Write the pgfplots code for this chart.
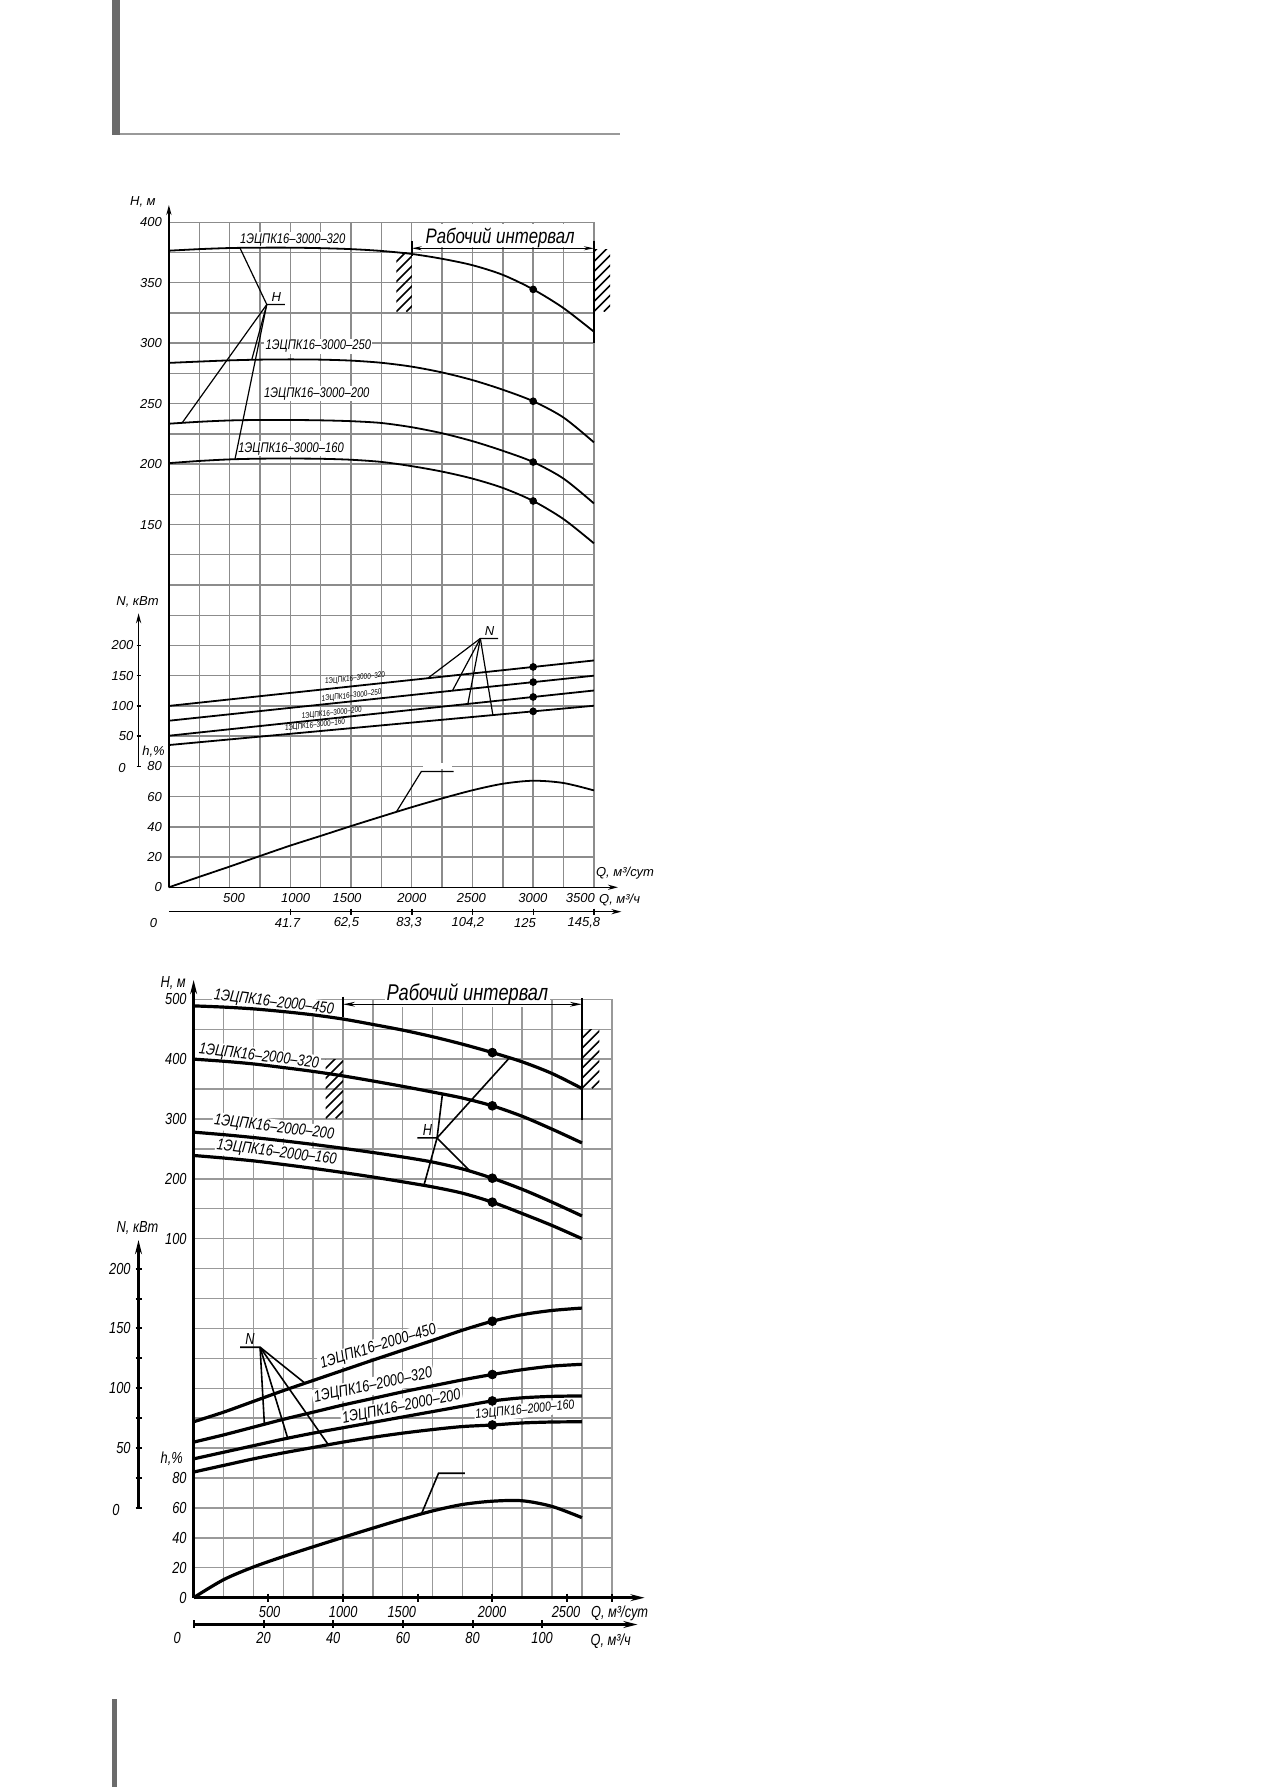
\documentclass[border=0pt]{standalone}
\usepackage{pgfplots}
\pgfplotsset{compat=1.18}
\usepackage{pgfplotstable}
\usetikzlibrary{arrows.meta}
\usepackage{fontspec}
\setmainfont{Liberation Sans}
\newfontfamily\nar{Liberation Sans}[FakeStretch=0.8]

\newcommand\fA{\nar\itshape\fontsize{7}{8}\selectfont}
\newcommand\fAn{\nar\itshape\fontsize{4}{4.8}\selectfont}
\newcommand\fAt{\itshape\fontsize{6.5}{7.5}\selectfont}
\newcommand\fAw{\nar\itshape\fontsize{10.5}{12}\selectfont}
\newcommand\fB{\nar\itshape\fontsize{8}{9}\selectfont}
\newcommand\fBs{\nar\itshape\fontsize{6.6}{8}\selectfont}
\newcommand\fBw{\nar\itshape\fontsize{11.4}{13}\selectfont}

\newcommand\hatch[4]{%
  \begin{scope}
    \clip (#1,#2) rectangle (#3,#4);
    \foreach \k in {-8,...,8} \draw[line width=0.8pt] ({#1+\k*10},#4) -- ++(80,-80);
  \end{scope}}

\pgfplotstableread{
Q H320 H250 H200 H160 eff
0 376.5 283.7 233.4 200.8 0
250 377.8 284.8 235.0 202.6 6.9
500 378.7 285.8 236.1 203.9 13.7
750 379.0 286.4 236.5 204.5 20.7
1000 379.0 286.6 236.5 204.6 27.6
1250 378.6 286.4 236.2 204.4 34.0
1500 377.8 285.6 235.5 203.6 40.5
1750 376.3 283.8 234.0 201.8 46.8
2000 373.8 280.6 230.5 198.3 53.0
2250 369.8 275.8 225.5 193.8 58.8
2500 364.5 269.5 219.0 188.0 64.2
2750 356.5 261.5 211.0 180.3 68.5
3000 344.5 252.0 201.7 169.5 70.5
3250 329.0 238.5 188.0 154.5 69.0
3500 309.5 218.0 167.5 134.5 64.1
}\tA

\pgfplotstableread{
Q N320 N250 N200 N160
0 100 75.5 50.7 35.3
3500 175.2 150 125.5 100.3
}\tAN

\pgfplotstableread{
Q H320 H250 H200 H160 N320 N250 N200 N160
3000 344.5 252 201.7 169.5 164.5 139.4 114.8 91
}\tAM

\pgfplotstableread{
Q H450 H320 H200 H160 N450 N320 N200 N160 eff
0 489 400 278 239 72 55 41 30 0
200 487 396.5 273.8 234.8 80 61 46.5 35.5 12
400 484 392 269 230 89 67.5 52 41 20.5
600 479.5 386 263.5 224 98 74 57.5 46 27.5
800 474 379.5 257.5 217.5 106.5 80 62.5 50.5 34
1000 467 372 251 210.5 115 86 67 55 40.3
1200 458 363.5 244 203 123.5 91.5 71.5 59 46.5
1400 448.5 354.5 236.5 195 131.8 97 76 62.5 52.5
1600 437.5 345 228 186.5 140 102 80.5 65.5 58
1800 425 335 216.5 176 148.5 107 85 68 62.3
2000 411 322 201 161 156 111.5 89.4 69.3 64.5
2200 395.5 304.5 182.5 142 161.5 115.5 92 71 64.8
2400 376 283 161 122 165 118.5 93.2 71.8 61
2600 351 260 138 100 167 120 93.6 72 53.5
}\tB

\pgfplotstableread{
Q H450 H320 H200 H160 N450 N320 N200 N160
2000 411 322 201 161 156 111.5 89.4 69.3
}\tBM

\pgfplotsset{
  cA/.style={black, line width=0.9pt, smooth, tension=0.5, mark=none},
  cB/.style={black, line width=1.6pt, smooth, tension=0.5, mark=none},
  mA/.style={only marks, mark=*, mark size=1.7pt, black},
  mB/.style={only marks, mark=*, mark size=2.2pt, black},
}
\tikzset{lead/.style={black, line width=0.6pt}, leadB/.style={black, line width=0.8pt}}

\begin{document}
\begin{tikzpicture}
\fill[white] (0,0) rectangle (637.5pt,893.5pt);
\path[use as bounding box] (0,0) rectangle (637.5pt,893.5pt);

% ================= CHART 1 =================
\begin{axis}[
  at={(84.45pt,449.85pt)}, anchor=south west,
  scale only axis, width=212.5pt, height=332.5pt,
  xmin=0, xmax=3500, ymin=-150, ymax=400,
  xtick={0,250,...,3500}, xticklabels={},
  ytick={-150,-125,...,400},
  yticklabels={0,20,40,60,80,{},{},{},{},{},{},{},150,{},200,{},250,{},300,{},350,{},400},
  grid=major, major grid style={line width=0.7pt, color=black!45},
  axis line style={line width=0.7pt, color=black!45},
  major tick length=0pt,
  yticklabel style={font=\fAt},
  /pgf/number format/assume math mode=true,
  clip=false,
]
\fill[white] (axis cs:2094,-52.5) rectangle (axis cs:2329,-47.5);
\node[fill=white, inner sep=0.6pt, font=\fA] at (axis cs:1020,385.4) {1ЭЦПК16–3000–320};
\node[fill=white, inner sep=0.6pt, font=\fA] at (axis cs:1231,297.5) {1ЭЦПК16–3000–250};
\node[fill=white, inner sep=0.6pt, font=\fA] at (axis cs:1218,258.3) {1ЭЦПК16–3000–200};
\node[fill=white, inner sep=0.6pt, font=\fA] at (axis cs:1006,212.7) {1ЭЦПК16–3000–160};
\fill[white] (axis cs:2010,379.6) rectangle (axis cs:3490,398.3);
\node[font=\fAw] at (axis cs:2727,387.2) {Рабочий интервал};
\node[font=\fAn, rotate=6.5] at (axis cs:1533,22.6) {1ЭЦПК16–3000–320};
\node[font=\fAn, rotate=6.5] at (axis cs:1505,8.2) {1ЭЦПК16–3000–250};
\node[font=\fAn, rotate=6.5] at (axis cs:1341,-6.2) {1ЭЦПК16–3000–200};
\node[font=\fAn, rotate=6.5] at (axis cs:1203,-16.2) {1ЭЦПК16–3000–160};

\addplot[cA] table[x=Q, y=H320] {\tA};
\addplot[cA] table[x=Q, y=H250] {\tA};
\addplot[cA] table[x=Q, y=H200] {\tA};
\addplot[cA] table[x=Q, y=H160] {\tA};
\addplot[cA, sharp plot] table[x=Q, y expr=\thisrow{N320}/2-50] {\tAN};
\addplot[cA, sharp plot] table[x=Q, y expr=\thisrow{N250}/2-50] {\tAN};
\addplot[cA, sharp plot] table[x=Q, y expr=\thisrow{N200}/2-50] {\tAN};
\addplot[cA, sharp plot] table[x=Q, y expr=\thisrow{N160}/2-50] {\tAN};
\addplot[cA] table[x=Q, y expr=1.25*\thisrow{eff}-150] {\tA};
\addplot[mA] table[x=Q, y=H320] {\tAM};
\addplot[mA] table[x=Q, y=H250] {\tAM};
\addplot[mA] table[x=Q, y=H200] {\tAM};
\addplot[mA] table[x=Q, y=H160] {\tAM};
\addplot[mA] table[x=Q, y expr=\thisrow{N320}/2-50] {\tAM};
\addplot[mA] table[x=Q, y expr=\thisrow{N250}/2-50] {\tAM};
\addplot[mA] table[x=Q, y expr=\thisrow{N200}/2-50] {\tAM};
\addplot[mA] table[x=Q, y expr=\thisrow{N160}/2-50] {\tAM};

\draw[line width=0.6pt, {Stealth[length=5pt,width=2pt]}-{Stealth[length=5pt,width=2pt]}] (axis cs:2000,378.5) -- (axis cs:3500,378.5);
\draw[lead] (axis cs:585,378.8) -- (axis cs:806,332) -- (axis cs:956,332);
\draw[lead] (axis cs:806,332) -- (axis cs:109,234.1);
\draw[lead] (axis cs:806,332) -- (axis cs:682,286.2);
\draw[lead] (axis cs:806,332) -- (axis cs:544,204.0);
\node[font=\fAt, anchor=south, inner sep=1pt] at (axis cs:885,332.5) {H};
\draw[lead] (axis cs:2132,22.9) -- (axis cs:2565,55.8) -- (axis cs:2712,55.8);
\draw[lead] (axis cs:2565,55.8) -- (axis cs:2335,12.6);
\draw[lead] (axis cs:2565,55.8) -- (axis cs:2462,1.6);
\draw[lead] (axis cs:2565,55.8) -- (axis cs:2668,-7.5);
\node[font=\fAt, anchor=south, inner sep=1pt] at (axis cs:2640,56.3) {N};
\draw[lead] (axis cs:1873,-87.7) -- (axis cs:2079,-54.2) -- (axis cs:2344,-54.2);
\end{axis}

% ================= CHART 2 =================
\begin{axis}[
  at={(96.8pt,94.65pt)}, anchor=south west,
  scale only axis, width=209.1pt, height=299.2pt,
  xmin=0, xmax=2800, ymin=-500, ymax=500,
  xtick={0,200,...,2800}, xticklabels={},
  ytick={-500,-450,...,500},
  yticklabels={0,20,40,60,80,{},{},{},{},{},{},{},100,{},200,{},300,{},400,{},500},
  grid=major, major grid style={line width=0.7pt, color=black!40},
  axis line style={line width=0.7pt, color=black!40},
  major tick length=0pt,
  yticklabel style={font=\fB},
  /pgf/number format/assume math mode=true,
  clip=false,
]
\node[fill=white, inner sep=0.8pt, font=\fB, rotate=-7] at (axis cs:537,494) {1ЭЦПК16–2000–450};
\node[fill=white, inner sep=0.8pt, font=\fB, rotate=-7] at (axis cs:437,404) {1ЭЦПК16–2000–320};
\node[fill=white, inner sep=0.8pt, font=\fB, rotate=-7] at (axis cs:539,285) {1ЭЦПК16–2000–200};
\node[fill=white, inner sep=0.8pt, font=\fB, rotate=-7] at (axis cs:556,243) {1ЭЦПК16–2000–160};
\node[fill=white, inner sep=1pt, font=\fBw] at (axis cs:1833,508) {Рабочий интервал};
\node[fill=white, inner sep=0.8pt, font=\fB, rotate=17] at (axis cs:1237,-81) {1ЭЦПК16–2000–450};
\node[fill=white, inner sep=0.8pt, font=\fB, rotate=12] at (axis cs:1203,-146) {1ЭЦПК16–2000–320};
\node[fill=white, inner sep=0.8pt, font=\fB, rotate=11.5] at (axis cs:1393,-182) {1ЭЦПК16–2000–200};
\node[fill=white, inner sep=0.6pt, font=\fBs, rotate=6] at (axis cs:2219,-187) {1ЭЦПК16–2000–160};

\addplot[cB] table[x=Q, y=H450] {\tB};
\addplot[cB] table[x=Q, y=H320] {\tB};
\addplot[cB] table[x=Q, y=H200] {\tB};
\addplot[cB] table[x=Q, y=H160] {\tB};
\addplot[cB] table[x=Q, y expr=2*\thisrow{N450}-350] {\tB};
\addplot[cB] table[x=Q, y expr=2*\thisrow{N320}-350] {\tB};
\addplot[cB] table[x=Q, y expr=2*\thisrow{N200}-350] {\tB};
\addplot[cB] table[x=Q, y expr=2*\thisrow{N160}-350] {\tB};
\addplot[cB] table[x=Q, y expr=2.5*\thisrow{eff}-500] {\tB};
\addplot[mB] table[x=Q, y=H450] {\tBM};
\addplot[mB] table[x=Q, y=H320] {\tBM};
\addplot[mB] table[x=Q, y=H200] {\tBM};
\addplot[mB] table[x=Q, y=H160] {\tBM};
\addplot[mB] table[x=Q, y expr=2*\thisrow{N450}-350] {\tBM};
\addplot[mB] table[x=Q, y expr=2*\thisrow{N320}-350] {\tBM};
\addplot[mB] table[x=Q, y expr=2*\thisrow{N200}-350] {\tBM};
\addplot[mB] table[x=Q, y expr=2*\thisrow{N160}-350] {\tBM};

\draw[line width=0.7pt, {Stealth[length=6pt,width=2.4pt]}-{Stealth[length=6pt,width=2.4pt]}] (axis cs:1000,491.7) -- (axis cs:2600,491.7);
\draw[leadB] (axis cs:2115,402.2) -- (axis cs:1630,268.3) -- (axis cs:1499,268.3);
\draw[leadB] (axis cs:1630,268.3) -- (axis cs:1666,341.7);
\draw[leadB] (axis cs:1630,268.3) -- (axis cs:1852,212.5);
\draw[leadB] (axis cs:1630,268.3) -- (axis cs:1542,189);
\node[font=\fB, anchor=south, inner sep=1pt] at (axis cs:1566,269) {H};
\draw[leadB] (axis cs:746,-141.6) -- (axis cs:445,-81.4) -- (axis cs:311,-81.4);
\draw[leadB] (axis cs:445,-81.4) -- (axis cs:474,-210.2);
\draw[leadB] (axis cs:445,-81.4) -- (axis cs:630,-233.5);
\draw[leadB] (axis cs:445,-81.4) -- (axis cs:902,-244.4);
\node[font=\fB, anchor=south, inner sep=1pt] at (axis cs:378,-80.5) {N};
\draw[leadB] (axis cs:1525,-360.3) -- (axis cs:1640,-292) -- (axis cs:1817,-292);
\end{axis}

% ================= decorations in page pixels (y downwards) =================
\begin{scope}[x=0.5pt, y=-0.5pt, yshift=893.5pt]
\fill[black!58] (112.1,0) rectangle (120.4,135);
\draw[black!40, line width=1pt] (120.4,134.5) -- (619.6,134.5);
\fill[black!58] (112,1699) rectangle (116.8,1787);

% ---- chart 1 ----
\draw[line width=0.7pt, -{Stealth[length=5pt,width=2.6pt]}] (168.9,887.3) -- (168.9,205);
\draw[line width=0.7pt, -{Stealth[length=5pt,width=2.6pt]}] (168.9,887.3) -- (617.9,887.3);
\draw[line width=0.7pt, -{Stealth[length=5pt,width=2.6pt]}] (168.9,911.7) -- (621.4,911.7);
\foreach \xx in {290.3,351.0,411.8,472.5,533.2,593.9} \draw[line width=0.7pt] (\xx,908.7) -- (\xx,914.7);
\draw[line width=0.7pt, -{Stealth[length=5pt,width=2.6pt]}] (138.6,766.4) -- (138.6,613.3);
\foreach \yy in {645.5,675.7,705.9,736.2,766.4} \draw[line width=0.7pt] (136.6,\yy) -- (140.6,\yy);
\draw[line width=1pt] (411.8,241) -- (411.8,256);
\draw[line width=1pt] (593.9,241) -- (593.9,342.7);
\hatch{396.4}{253}{411.8}{311.7}
\hatch{593.9}{250}{610}{311.7}
\node[font=\fAt] at (142.9,201.7) {H, м};
\node[font=\fAt] at (137.5,601.7) {N, кВт};
\node[font=\fAt] at (153.6,751.7) {h,\%};
\foreach \yy/\t in {645.5/200,675.7/150,705.9/100,736.2/50} \node[font=\fAt, anchor=east, inner sep=1pt] at (135.7,\yy) {\t};
\node[font=\fAt] at (122.1,767.7) {0};
\foreach \xx/\t in {233.9/500,295.7/1000,347/1500,411.8/2000,471.4/2500,532.9/3000,580.4/3500} \node[font=\fAt] at (\xx,898.3) {\t};
\foreach \xx/\t in {153.6/0,287.5/41.7,346.4/{62,5},408.9/{83,3},467.9/{104,2},525/125,583.9/{145,8}} \node[font=\fAt] at (\xx,923.3) {\t};
\node[font=\fAt] at (625,873.3) {Q, м³/сут};
\node[font=\fAt] at (619.6,900) {Q, м³/ч};

% ---- chart 2 ----
\draw[line width=1.5pt, -{Stealth[length=7pt,width=3.4pt]}] (193.6,1597.7) -- (193.6,980);
\draw[line width=1.5pt, -{Stealth[length=7pt,width=3.4pt]}] (193.6,1597.7) -- (644.6,1597.7);
\foreach \xx in {268.3,343,417.6,492.3,567,611.8} \draw[line width=1pt] (\xx,1593.7) -- (\xx,1601.7);
\draw[line width=1.2pt, -{Stealth[length=7pt,width=3.4pt]}] (193.6,1624.5) -- (637.5,1624.5);
\foreach \xx in {193.6,263.6,333.2,402.9,472.5,542.1} \draw[line width=1pt] (\xx,1620.5) -- (\xx,1628.5);
\draw[line width=1.5pt, -{Stealth[length=7pt,width=3.4pt]}] (138.5,1508) -- (138.5,1240);
\foreach \k in {0,...,8} \draw[line width=1pt] (135.5,{1508-\k*29.92}) -- (141.5,{1508-\k*29.92});
\draw[line width=0.8pt] (343,996.7) -- (343,1016.7);
\draw[line width=1.3pt] (581.9,998.3) -- (581.9,1120);
\hatch{325.7}{1060}{343}{1118.3}
\hatch{581.9}{1029.3}{599.3}{1088.3}
\node[font=\fB] at (173.2,983.3) {H, м};
\node[font=\fB] at (137.5,1228.3) {N, кВт};
\node[font=\fB] at (171.7,1458.3) {h,\%};
\foreach \yy/\t in {1268.6/200,1328.4/150,1388.3/100,1448.1/50} \node[font=\fB, anchor=east, inner sep=1pt] at (133,\yy) {\t};
\node[font=\fB] at (116,1510) {0};
\foreach \xx/\t in {269.6/500,343.2/1000,401.8/1500,492.1/2000,566.1/2500} \node[font=\fB] at (\xx,1611.7) {\t};
\foreach \xx/\t in {177.3/0,263.6/20,333.2/40,402.9/60,472.5/80,542.1/100} \node[font=\fB] at (\xx,1638.3) {\t};
\node[font=\fB] at (619.6,1613.3) {Q, м³/сут};
\node[font=\fB] at (610.7,1641.7) {Q, м³/ч};
\end{scope}
\end{tikzpicture}
\end{document}
